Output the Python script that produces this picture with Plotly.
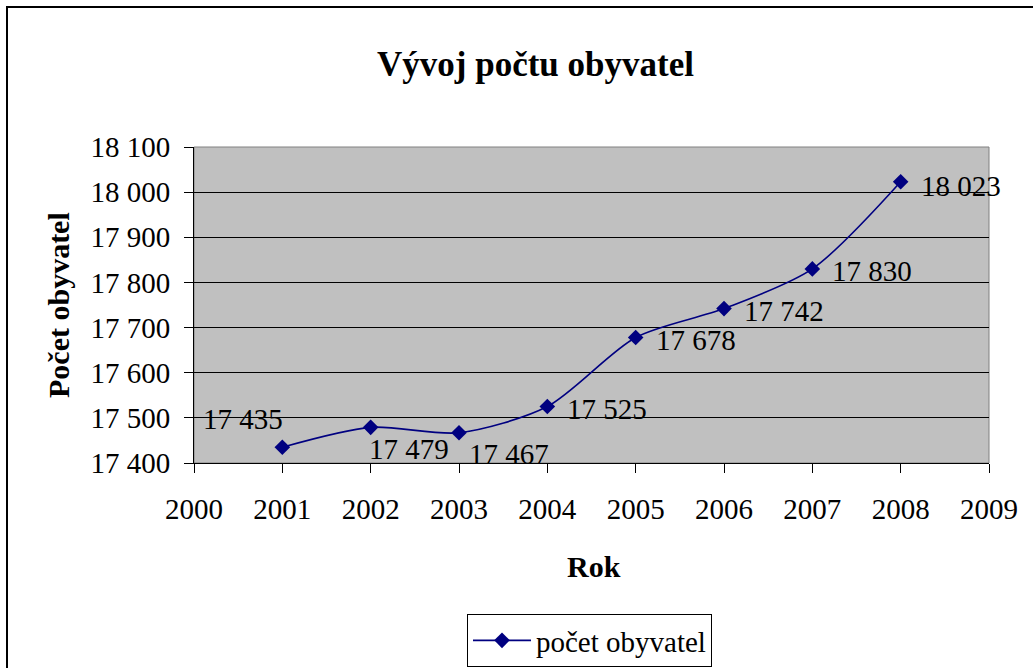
import plotly.graph_objects as go

years = [2001, 2002, 2003, 2004, 2005, 2006, 2007, 2008]
population = [17435, 17479, 17467, 17525, 17678, 17742, 17830, 18023]
series_name = "počet obyvatel"
title_text = "Vývoj počtu obyvatel"
x_title = "Rok"
y_title = "Počet obyvatel"

FONT = "Liberation Serif, Times New Roman, serif"
NAVY = "#000080"

# plot area in pixels
L, R, T, B = 194, 989, 147, 463
W, H = 1033, 668

def px_x(p):
    return (p - L) / (R - L)

def px_y(p):
    return (B - p) / (B - T)

def fmt(v):
    return f"{v:,}".replace(",", " ")

# label placement (anchor, xshift, yshift) per point, Excel-like
label_style = [
    ("right", 3, 28),
    ("left", -4, -22),
    ("left", 8, -21),
    ("left", 18, -2),
    ("left", 18, -2),
    ("left", 18, -2),
    ("left", 18, -2),
    ("left", 18, -4),
]

fig = go.Figure()
fig.add_trace(go.Scatter(
    x=years, y=population, name=series_name,
    mode="lines+markers",
    line=dict(color=NAVY, width=1.6, shape="spline", smoothing=0.8),
    marker=dict(symbol="diamond", size=12, color=NAVY),
    cliponaxis=False,
))

annotations = []
for (yr, val), (anc, xs, ys) in zip(zip(years, population), label_style):
    annotations.append(dict(
        x=yr, y=val, xref="x", yref="y", text=fmt(val), showarrow=False,
        xanchor=anc, yanchor="middle", xshift=xs, yshift=ys,
        font=dict(family=FONT, size=29, color="black"),
    ))

annotations += [
    dict(text="<b>" + title_text + "</b>", xref="paper", yref="paper",
         x=px_x(535), y=px_y(65), xanchor="center", yanchor="middle",
         showarrow=False, font=dict(family=FONT, size=35)),
    dict(text="<b>" + x_title + "</b>", xref="paper", yref="paper",
         x=px_x(594), y=px_y(566), xanchor="center", yanchor="middle",
         showarrow=False, font=dict(family=FONT, size=30)),
    dict(text="<b>" + y_title + "</b>", xref="paper", yref="paper",
         x=px_x(58), y=px_y(305), xanchor="center", yanchor="middle",
         textangle=-90, showarrow=False, font=dict(family=FONT, size=30)),
]

fig.update_layout(
    width=W, height=H,
    margin=dict(l=L, r=W - R, t=T, b=H - B, pad=0, autoexpand=False),
    paper_bgcolor="white",
    plot_bgcolor="#C0C0C0",
    separators=". ",
    font=dict(family=FONT, size=29, color="black"),
    showlegend=True,
    legend=dict(
        x=px_x(467), y=px_y(614), xanchor="left", yanchor="top",
        bordercolor="black", borderwidth=1, bgcolor="white",
        itemwidth=58,
        font=dict(family=FONT, size=29, color="black"),
    ),
    xaxis=dict(
        range=[2000, 2009], dtick=1, tick0=2000,
        showgrid=False, zeroline=False, automargin=False,
        showline=True, linecolor="black", linewidth=1,
        ticks="outside", ticklen=9, tickcolor="black",
        ticklabelstandoff=11,
        tickfont=dict(family=FONT, size=29),
    ),
    yaxis=dict(
        range=[17400, 18100], dtick=100, tick0=17400,
        tickformat=",d", automargin=False,
        showgrid=True, gridcolor="black", gridwidth=1,
        zeroline=False,
        showline=True, linecolor="black", linewidth=1,
        ticks="outside", ticklen=9, tickcolor="black",
        ticklabelstandoff=8,
        tickfont=dict(family=FONT, size=29),
    ),
    shapes=[
        dict(type="rect", xref="paper", yref="paper", x0=0, x1=1, y0=0, y1=1,
             line=dict(color="#808080", width=1), layer="below"),
        dict(type="rect", xref="paper", yref="paper",
             x0=px_x(7), x1=px_x(1040), y0=px_y(680), y1=px_y(7),
             line=dict(color="black", width=2)),
    ],
    annotations=annotations,
)

fig.write_html("out.html",
               config={"displayModeBar": False},
               post_script="document.body.style.margin='0';document.body.style.overflow='hidden';")
